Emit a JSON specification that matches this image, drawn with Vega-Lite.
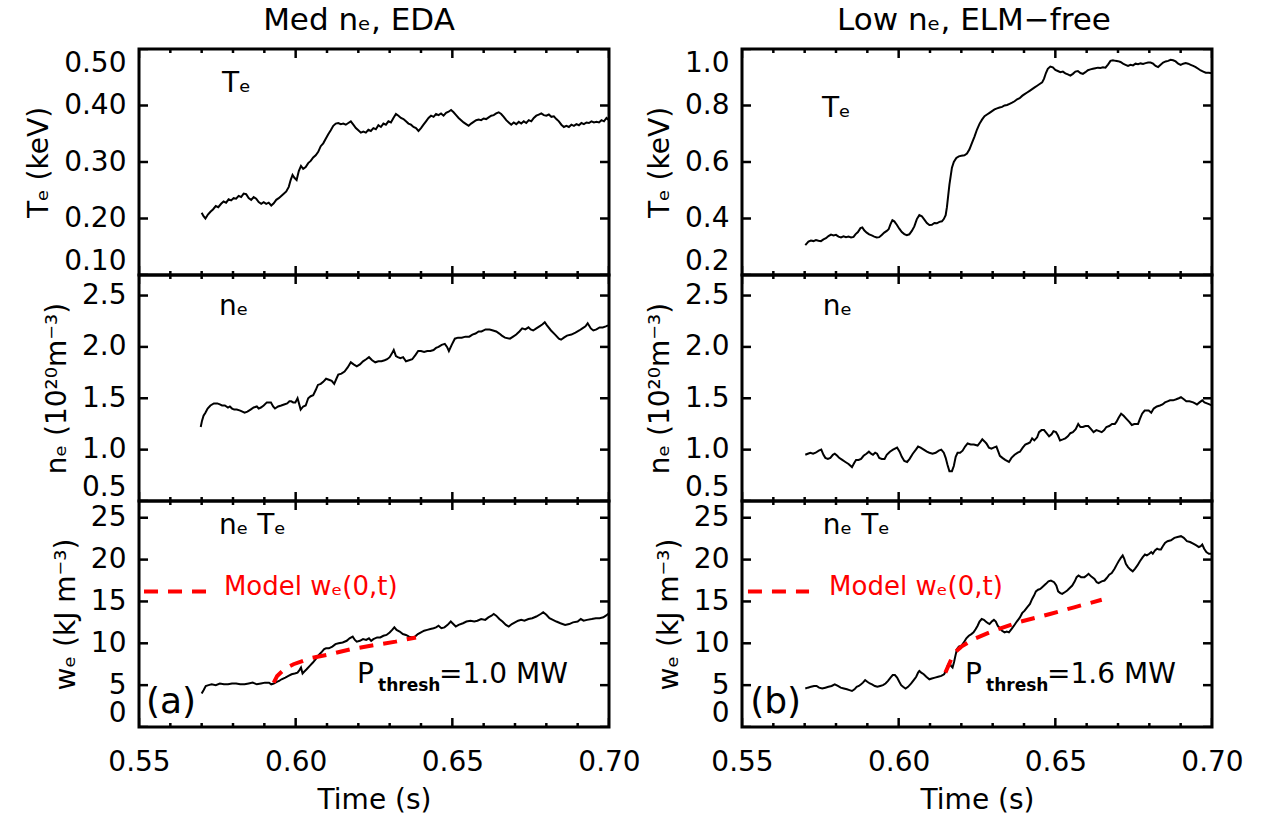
{
"$schema":"https://vega.github.io/schema/vega-lite/v6.json",
"background":"white",
"padding":{"left":24,"top":3,"right":0,"bottom":0},
"config":{"font":"DejaVu Sans","view":{"stroke":"black","strokeWidth":3},"axis":{"labelColor":"black","titleColor":"black","labelFont":"DejaVu Sans","titleFont":"DejaVu Sans"}},
"datasets":{
"xt":[{"t":0.55,"k":"maj"},{"t":0.56,"k":"min"},{"t":0.57,"k":"min"},{"t":0.58,"k":"min"},{"t":0.59,"k":"min"},{"t":0.6,"k":"maj"},{"t":0.61,"k":"min"},{"t":0.62,"k":"min"},{"t":0.63,"k":"min"},{"t":0.64,"k":"min"},{"t":0.65,"k":"maj"},{"t":0.66,"k":"min"},{"t":0.67,"k":"min"},{"t":0.68,"k":"min"},{"t":0.69,"k":"min"},{"t":0.7,"k":"maj"}],
"ytTeA":[{"v":0.1},{"v":0.2},{"v":0.3},{"v":0.4},{"v":0.5}],
"ytTeB":[{"v":0.2},{"v":0.4},{"v":0.6},{"v":0.8},{"v":1.0}],
"ytNe":[{"v":0.5},{"v":1.0},{"v":1.5},{"v":2.0},{"v":2.5}],
"ytWe":[{"v":0},{"v":5},{"v":10},{"v":15},{"v":20},{"v":25}],
"teA":[{"t":0.57,"v":0.21},{"t":0.5706,"v":0.204},{"t":0.5712,"v":0.2},{"t":0.572,"v":0.207},{"t":0.5728,"v":0.212},{"t":0.5736,"v":0.216},{"t":0.5745,"v":0.222},{"t":0.5753,"v":0.22},{"t":0.5762,"v":0.226},{"t":0.577,"v":0.23},{"t":0.5778,"v":0.228},{"t":0.5786,"v":0.234},{"t":0.5794,"v":0.232},{"t":0.5802,"v":0.236},{"t":0.581,"v":0.235},{"t":0.5818,"v":0.24},{"t":0.5826,"v":0.238},{"t":0.5834,"v":0.244},{"t":0.5842,"v":0.243},{"t":0.585,"v":0.236},{"t":0.5858,"v":0.233},{"t":0.5866,"v":0.238},{"t":0.5874,"v":0.235},{"t":0.5882,"v":0.229},{"t":0.589,"v":0.226},{"t":0.5898,"v":0.229},{"t":0.5906,"v":0.226},{"t":0.5914,"v":0.228},{"t":0.5922,"v":0.223},{"t":0.593,"v":0.227},{"t":0.5938,"v":0.233},{"t":0.5946,"v":0.236},{"t":0.5954,"v":0.24},{"t":0.5962,"v":0.244},{"t":0.597,"v":0.248},{"t":0.5978,"v":0.256},{"t":0.5984,"v":0.268},{"t":0.599,"v":0.277},{"t":0.5996,"v":0.272},{"t":0.6003,"v":0.268},{"t":0.601,"v":0.284},{"t":0.6017,"v":0.293},{"t":0.6024,"v":0.288},{"t":0.6032,"v":0.291},{"t":0.604,"v":0.298},{"t":0.6048,"v":0.302},{"t":0.6056,"v":0.308},{"t":0.6064,"v":0.312},{"t":0.6072,"v":0.318},{"t":0.608,"v":0.328},{"t":0.6088,"v":0.333},{"t":0.6096,"v":0.341},{"t":0.6104,"v":0.349},{"t":0.6112,"v":0.356},{"t":0.612,"v":0.364},{"t":0.6128,"v":0.368},{"t":0.6136,"v":0.369},{"t":0.6144,"v":0.367},{"t":0.6152,"v":0.368},{"t":0.616,"v":0.366},{"t":0.6168,"v":0.369},{"t":0.6176,"v":0.372},{"t":0.6184,"v":0.366},{"t":0.6192,"v":0.36},{"t":0.62,"v":0.356},{"t":0.6208,"v":0.352},{"t":0.6216,"v":0.354},{"t":0.6224,"v":0.352},{"t":0.6232,"v":0.357},{"t":0.624,"v":0.355},{"t":0.6248,"v":0.36},{"t":0.6256,"v":0.358},{"t":0.6264,"v":0.365},{"t":0.6272,"v":0.362},{"t":0.628,"v":0.368},{"t":0.6288,"v":0.366},{"t":0.6296,"v":0.372},{"t":0.6304,"v":0.37},{"t":0.6312,"v":0.378},{"t":0.632,"v":0.385},{"t":0.6328,"v":0.382},{"t":0.6336,"v":0.378},{"t":0.6344,"v":0.376},{"t":0.6352,"v":0.372},{"t":0.636,"v":0.368},{"t":0.6368,"v":0.366},{"t":0.6376,"v":0.362},{"t":0.6384,"v":0.36},{"t":0.6392,"v":0.355},{"t":0.64,"v":0.36},{"t":0.6408,"v":0.366},{"t":0.6416,"v":0.372},{"t":0.6424,"v":0.378},{"t":0.6432,"v":0.382},{"t":0.644,"v":0.38},{"t":0.6448,"v":0.385},{"t":0.6456,"v":0.383},{"t":0.6464,"v":0.386},{"t":0.6472,"v":0.382},{"t":0.648,"v":0.387},{"t":0.6488,"v":0.389},{"t":0.6496,"v":0.392},{"t":0.6504,"v":0.388},{"t":0.6512,"v":0.383},{"t":0.652,"v":0.378},{"t":0.6528,"v":0.374},{"t":0.6536,"v":0.37},{"t":0.6544,"v":0.367},{"t":0.6552,"v":0.364},{"t":0.656,"v":0.368},{"t":0.6568,"v":0.371},{"t":0.6576,"v":0.374},{"t":0.6584,"v":0.375},{"t":0.6592,"v":0.374},{"t":0.66,"v":0.377},{"t":0.6608,"v":0.376},{"t":0.6616,"v":0.379},{"t":0.6624,"v":0.382},{"t":0.6632,"v":0.383},{"t":0.664,"v":0.386},{"t":0.6648,"v":0.388},{"t":0.6656,"v":0.385},{"t":0.6664,"v":0.38},{"t":0.6672,"v":0.374},{"t":0.668,"v":0.37},{"t":0.6688,"v":0.366},{"t":0.6696,"v":0.37},{"t":0.6704,"v":0.367},{"t":0.6712,"v":0.371},{"t":0.672,"v":0.368},{"t":0.6728,"v":0.372},{"t":0.6736,"v":0.369},{"t":0.6744,"v":0.374},{"t":0.6752,"v":0.372},{"t":0.676,"v":0.378},{"t":0.6768,"v":0.382},{"t":0.6776,"v":0.384},{"t":0.6784,"v":0.386},{"t":0.6792,"v":0.383},{"t":0.68,"v":0.382},{"t":0.6808,"v":0.384},{"t":0.6816,"v":0.38},{"t":0.6824,"v":0.381},{"t":0.6832,"v":0.376},{"t":0.684,"v":0.372},{"t":0.6848,"v":0.366},{"t":0.6856,"v":0.362},{"t":0.6864,"v":0.364},{"t":0.6872,"v":0.362},{"t":0.688,"v":0.366},{"t":0.6888,"v":0.364},{"t":0.6896,"v":0.367},{"t":0.6904,"v":0.365},{"t":0.6912,"v":0.369},{"t":0.692,"v":0.367},{"t":0.6928,"v":0.37},{"t":0.6936,"v":0.369},{"t":0.6944,"v":0.372},{"t":0.6952,"v":0.37},{"t":0.696,"v":0.371},{"t":0.6968,"v":0.37},{"t":0.6976,"v":0.374},{"t":0.6984,"v":0.372},{"t":0.6992,"v":0.378},{"t":0.7,"v":0.374}],
"teB":[{"t":0.5702,"v":0.306},{"t":0.5707,"v":0.312},{"t":0.5712,"v":0.318},{"t":0.572,"v":0.322},{"t":0.5728,"v":0.32},{"t":0.5736,"v":0.324},{"t":0.5744,"v":0.321},{"t":0.5752,"v":0.32},{"t":0.576,"v":0.326},{"t":0.5768,"v":0.33},{"t":0.5776,"v":0.338},{"t":0.5784,"v":0.343},{"t":0.5792,"v":0.34},{"t":0.58,"v":0.342},{"t":0.5808,"v":0.336},{"t":0.5816,"v":0.333},{"t":0.5824,"v":0.337},{"t":0.5832,"v":0.334},{"t":0.584,"v":0.336},{"t":0.5848,"v":0.333},{"t":0.5856,"v":0.335},{"t":0.5862,"v":0.344},{"t":0.587,"v":0.352},{"t":0.5878,"v":0.366},{"t":0.5884,"v":0.368},{"t":0.589,"v":0.358},{"t":0.5898,"v":0.35},{"t":0.5906,"v":0.344},{"t":0.5914,"v":0.34},{"t":0.5922,"v":0.336},{"t":0.593,"v":0.333},{"t":0.5938,"v":0.334},{"t":0.5946,"v":0.342},{"t":0.5954,"v":0.35},{"t":0.5962,"v":0.356},{"t":0.5968,"v":0.362},{"t":0.5974,"v":0.38},{"t":0.598,"v":0.394},{"t":0.5986,"v":0.39},{"t":0.5994,"v":0.378},{"t":0.6002,"v":0.364},{"t":0.601,"v":0.352},{"t":0.6018,"v":0.345},{"t":0.6026,"v":0.341},{"t":0.6034,"v":0.344},{"t":0.6042,"v":0.356},{"t":0.605,"v":0.372},{"t":0.6058,"v":0.398},{"t":0.6066,"v":0.412},{"t":0.6074,"v":0.408},{"t":0.6082,"v":0.396},{"t":0.609,"v":0.384},{"t":0.6098,"v":0.377},{"t":0.6106,"v":0.378},{"t":0.6114,"v":0.384},{"t":0.6122,"v":0.383},{"t":0.613,"v":0.388},{"t":0.6138,"v":0.39},{"t":0.6144,"v":0.398},{"t":0.615,"v":0.412},{"t":0.6154,"v":0.44},{"t":0.6158,"v":0.48},{"t":0.6162,"v":0.52},{"t":0.6166,"v":0.55},{"t":0.617,"v":0.58},{"t":0.6176,"v":0.6},{"t":0.6184,"v":0.614},{"t":0.6192,"v":0.62},{"t":0.62,"v":0.622},{"t":0.621,"v":0.624},{"t":0.6218,"v":0.63},{"t":0.6226,"v":0.645},{"t":0.6234,"v":0.668},{"t":0.6242,"v":0.69},{"t":0.625,"v":0.715},{"t":0.6258,"v":0.735},{"t":0.6266,"v":0.75},{"t":0.6274,"v":0.762},{"t":0.6282,"v":0.768},{"t":0.629,"v":0.774},{"t":0.6298,"v":0.78},{"t":0.6306,"v":0.786},{"t":0.6314,"v":0.79},{"t":0.6322,"v":0.793},{"t":0.633,"v":0.795},{"t":0.6338,"v":0.8},{"t":0.6346,"v":0.802},{"t":0.6354,"v":0.806},{"t":0.6362,"v":0.81},{"t":0.637,"v":0.815},{"t":0.6378,"v":0.822},{"t":0.6386,"v":0.826},{"t":0.6394,"v":0.834},{"t":0.6402,"v":0.84},{"t":0.641,"v":0.846},{"t":0.6418,"v":0.852},{"t":0.6426,"v":0.858},{"t":0.6434,"v":0.864},{"t":0.6442,"v":0.87},{"t":0.645,"v":0.876},{"t":0.6458,"v":0.882},{"t":0.6464,"v":0.895},{"t":0.647,"v":0.915},{"t":0.6476,"v":0.93},{"t":0.6484,"v":0.938},{"t":0.6492,"v":0.935},{"t":0.65,"v":0.926},{"t":0.6508,"v":0.922},{"t":0.6516,"v":0.918},{"t":0.6524,"v":0.92},{"t":0.6532,"v":0.914},{"t":0.654,"v":0.91},{"t":0.6548,"v":0.906},{"t":0.6556,"v":0.912},{"t":0.6564,"v":0.92},{"t":0.6572,"v":0.922},{"t":0.658,"v":0.915},{"t":0.6588,"v":0.912},{"t":0.6596,"v":0.918},{"t":0.6604,"v":0.925},{"t":0.6612,"v":0.928},{"t":0.662,"v":0.93},{"t":0.6628,"v":0.932},{"t":0.6636,"v":0.934},{"t":0.6644,"v":0.933},{"t":0.6652,"v":0.935},{"t":0.666,"v":0.934},{"t":0.6668,"v":0.945},{"t":0.6676,"v":0.958},{"t":0.6684,"v":0.96},{"t":0.6692,"v":0.958},{"t":0.67,"v":0.957},{"t":0.6708,"v":0.954},{"t":0.6716,"v":0.948},{"t":0.6724,"v":0.944},{"t":0.6732,"v":0.94},{"t":0.674,"v":0.944},{"t":0.6748,"v":0.942},{"t":0.6756,"v":0.948},{"t":0.6764,"v":0.946},{"t":0.6772,"v":0.949},{"t":0.678,"v":0.947},{"t":0.6788,"v":0.95},{"t":0.6796,"v":0.952},{"t":0.6804,"v":0.952},{"t":0.6812,"v":0.948},{"t":0.682,"v":0.94},{"t":0.6828,"v":0.936},{"t":0.6836,"v":0.944},{"t":0.6844,"v":0.952},{"t":0.6852,"v":0.956},{"t":0.686,"v":0.958},{"t":0.6868,"v":0.962},{"t":0.6876,"v":0.96},{"t":0.6884,"v":0.956},{"t":0.6892,"v":0.948},{"t":0.69,"v":0.944},{"t":0.6908,"v":0.948},{"t":0.6916,"v":0.95},{"t":0.6924,"v":0.948},{"t":0.6932,"v":0.944},{"t":0.694,"v":0.94},{"t":0.6948,"v":0.936},{"t":0.6956,"v":0.93},{"t":0.6964,"v":0.924},{"t":0.6972,"v":0.92},{"t":0.698,"v":0.916},{"t":0.699,"v":0.916},{"t":0.7,"v":0.914}],
"neA":[{"t":0.5697,"v":1.22},{"t":0.5701,"v":1.28},{"t":0.5706,"v":1.33},{"t":0.5712,"v":1.36},{"t":0.5719,"v":1.4},{"t":0.5728,"v":1.43},{"t":0.5739,"v":1.45},{"t":0.575,"v":1.45},{"t":0.5758,"v":1.44},{"t":0.5765,"v":1.43},{"t":0.5774,"v":1.43},{"t":0.5784,"v":1.41},{"t":0.579,"v":1.42},{"t":0.5797,"v":1.4},{"t":0.5804,"v":1.39},{"t":0.5812,"v":1.39},{"t":0.5823,"v":1.38},{"t":0.583,"v":1.37},{"t":0.5837,"v":1.36},{"t":0.5846,"v":1.37},{"t":0.5856,"v":1.39},{"t":0.5866,"v":1.41},{"t":0.5876,"v":1.42},{"t":0.5882,"v":1.4},{"t":0.5889,"v":1.41},{"t":0.5898,"v":1.43},{"t":0.5908,"v":1.46},{"t":0.5915,"v":1.46},{"t":0.5921,"v":1.46},{"t":0.5928,"v":1.42},{"t":0.5934,"v":1.4},{"t":0.5944,"v":1.42},{"t":0.5954,"v":1.43},{"t":0.5963,"v":1.44},{"t":0.5973,"v":1.45},{"t":0.598,"v":1.47},{"t":0.5986,"v":1.47},{"t":0.5992,"v":1.46},{"t":0.5999,"v":1.46},{"t":0.6006,"v":1.5},{"t":0.6016,"v":1.39},{"t":0.6024,"v":1.42},{"t":0.6032,"v":1.43},{"t":0.604,"v":1.5},{"t":0.6048,"v":1.52},{"t":0.6056,"v":1.53},{"t":0.6064,"v":1.58},{"t":0.6071,"v":1.63},{"t":0.608,"v":1.64},{"t":0.6088,"v":1.66},{"t":0.6097,"v":1.69},{"t":0.6106,"v":1.68},{"t":0.6115,"v":1.67},{"t":0.6123,"v":1.64},{"t":0.613,"v":1.69},{"t":0.6136,"v":1.73},{"t":0.6146,"v":1.74},{"t":0.6156,"v":1.76},{"t":0.6166,"v":1.8},{"t":0.6176,"v":1.85},{"t":0.6185,"v":1.83},{"t":0.6195,"v":1.81},{"t":0.6205,"v":1.83},{"t":0.6215,"v":1.86},{"t":0.6225,"v":1.88},{"t":0.6234,"v":1.9},{"t":0.6244,"v":1.87},{"t":0.6254,"v":1.85},{"t":0.6264,"v":1.86},{"t":0.6274,"v":1.86},{"t":0.6284,"v":1.87},{"t":0.6292,"v":1.88},{"t":0.63,"v":1.9},{"t":0.6306,"v":1.93},{"t":0.6313,"v":1.97},{"t":0.632,"v":1.91},{"t":0.6326,"v":1.9},{"t":0.6334,"v":1.89},{"t":0.6343,"v":1.9},{"t":0.6352,"v":1.86},{"t":0.6362,"v":1.87},{"t":0.6372,"v":1.88},{"t":0.6382,"v":1.92},{"t":0.6391,"v":1.96},{"t":0.64,"v":1.96},{"t":0.641,"v":1.95},{"t":0.642,"v":1.96},{"t":0.643,"v":1.96},{"t":0.644,"v":1.97},{"t":0.6448,"v":1.99},{"t":0.6456,"v":2.0},{"t":0.6466,"v":2.02},{"t":0.6476,"v":2.03},{"t":0.6483,"v":2.0},{"t":0.6489,"v":1.96},{"t":0.6498,"v":2.02},{"t":0.6508,"v":2.08},{"t":0.6518,"v":2.09},{"t":0.653,"v":2.09},{"t":0.6542,"v":2.1},{"t":0.6554,"v":2.1},{"t":0.6564,"v":2.12},{"t":0.6574,"v":2.13},{"t":0.6584,"v":2.15},{"t":0.6593,"v":2.15},{"t":0.6606,"v":2.17},{"t":0.6619,"v":2.17},{"t":0.663,"v":2.16},{"t":0.664,"v":2.15},{"t":0.665,"v":2.13},{"t":0.6658,"v":2.11},{"t":0.6668,"v":2.09},{"t":0.6684,"v":2.08},{"t":0.6694,"v":2.1},{"t":0.6704,"v":2.12},{"t":0.6714,"v":2.15},{"t":0.6723,"v":2.18},{"t":0.6733,"v":2.17},{"t":0.6743,"v":2.19},{"t":0.675,"v":2.17},{"t":0.6758,"v":2.16},{"t":0.6768,"v":2.18},{"t":0.6778,"v":2.2},{"t":0.6788,"v":2.22},{"t":0.6795,"v":2.24},{"t":0.6802,"v":2.21},{"t":0.6815,"v":2.16},{"t":0.6828,"v":2.12},{"t":0.684,"v":2.08},{"t":0.6847,"v":2.07},{"t":0.6856,"v":2.09},{"t":0.6866,"v":2.11},{"t":0.688,"v":2.12},{"t":0.6893,"v":2.14},{"t":0.6905,"v":2.16},{"t":0.6915,"v":2.18},{"t":0.6925,"v":2.2},{"t":0.6932,"v":2.23},{"t":0.6942,"v":2.18},{"t":0.695,"v":2.16},{"t":0.696,"v":2.17},{"t":0.697,"v":2.19},{"t":0.698,"v":2.19},{"t":0.699,"v":2.2},{"t":0.6997,"v":2.21}],
"neB":[{"t":0.5702,"v":0.95},{"t":0.571,"v":0.96},{"t":0.5718,"v":0.97},{"t":0.5727,"v":0.96},{"t":0.5735,"v":0.97},{"t":0.5745,"v":0.99},{"t":0.5753,"v":1.0},{"t":0.576,"v":0.95},{"t":0.5766,"v":0.92},{"t":0.5774,"v":0.91},{"t":0.5782,"v":0.92},{"t":0.579,"v":0.95},{"t":0.5796,"v":0.96},{"t":0.5804,"v":0.94},{"t":0.581,"v":0.92},{"t":0.582,"v":0.9},{"t":0.583,"v":0.88},{"t":0.584,"v":0.86},{"t":0.5851,"v":0.83},{"t":0.5858,"v":0.87},{"t":0.5864,"v":0.9},{"t":0.5872,"v":0.9},{"t":0.588,"v":0.91},{"t":0.5888,"v":0.94},{"t":0.5897,"v":0.96},{"t":0.5905,"v":0.98},{"t":0.5912,"v":0.96},{"t":0.5918,"v":0.95},{"t":0.5925,"v":0.97},{"t":0.5931,"v":0.96},{"t":0.5938,"v":0.92},{"t":0.5946,"v":0.91},{"t":0.5955,"v":0.91},{"t":0.5962,"v":0.95},{"t":0.5972,"v":0.98},{"t":0.5982,"v":1.0},{"t":0.5995,"v":1.02},{"t":0.6003,"v":0.98},{"t":0.601,"v":0.93},{"t":0.6018,"v":0.89},{"t":0.6027,"v":0.88},{"t":0.6035,"v":0.91},{"t":0.6045,"v":0.96},{"t":0.6055,"v":1.0},{"t":0.6062,"v":1.03},{"t":0.607,"v":1.02},{"t":0.608,"v":1.0},{"t":0.609,"v":0.98},{"t":0.6098,"v":0.97},{"t":0.6108,"v":0.96},{"t":0.6118,"v":0.97},{"t":0.6128,"v":0.99},{"t":0.6136,"v":1.0},{"t":0.6144,"v":0.97},{"t":0.615,"v":0.92},{"t":0.6156,"v":0.85},{"t":0.6162,"v":0.79},{"t":0.617,"v":0.79},{"t":0.6176,"v":0.84},{"t":0.6182,"v":0.93},{"t":0.6188,"v":0.97},{"t":0.6196,"v":0.97},{"t":0.6204,"v":0.99},{"t":0.6212,"v":1.03},{"t":0.622,"v":1.06},{"t":0.623,"v":1.05},{"t":0.624,"v":1.05},{"t":0.6252,"v":1.04},{"t":0.626,"v":1.07},{"t":0.6267,"v":1.1},{"t":0.6274,"v":1.08},{"t":0.628,"v":1.06},{"t":0.6288,"v":1.02},{"t":0.6296,"v":1.01},{"t":0.6303,"v":1.02},{"t":0.6312,"v":1.03},{"t":0.6318,"v":0.98},{"t":0.6323,"v":0.94},{"t":0.6331,"v":0.92},{"t":0.634,"v":0.9},{"t":0.6352,"v":0.88},{"t":0.636,"v":0.92},{"t":0.637,"v":0.95},{"t":0.638,"v":0.97},{"t":0.6387,"v":0.98},{"t":0.6396,"v":1.02},{"t":0.6404,"v":1.05},{"t":0.6412,"v":1.06},{"t":0.6419,"v":1.07},{"t":0.6426,"v":1.11},{"t":0.6433,"v":1.09},{"t":0.6442,"v":1.12},{"t":0.6448,"v":1.17},{"t":0.6456,"v":1.19},{"t":0.6464,"v":1.19},{"t":0.6472,"v":1.16},{"t":0.648,"v":1.13},{"t":0.6488,"v":1.15},{"t":0.6494,"v":1.18},{"t":0.6502,"v":1.17},{"t":0.6508,"v":1.14},{"t":0.6515,"v":1.09},{"t":0.6524,"v":1.1},{"t":0.6532,"v":1.11},{"t":0.654,"v":1.13},{"t":0.6548,"v":1.16},{"t":0.6556,"v":1.17},{"t":0.6565,"v":1.2},{"t":0.6573,"v":1.25},{"t":0.658,"v":1.22},{"t":0.6588,"v":1.22},{"t":0.6596,"v":1.23},{"t":0.6605,"v":1.23},{"t":0.6614,"v":1.2},{"t":0.6622,"v":1.17},{"t":0.6631,"v":1.19},{"t":0.664,"v":1.18},{"t":0.6648,"v":1.17},{"t":0.6656,"v":1.19},{"t":0.6663,"v":1.22},{"t":0.6672,"v":1.23},{"t":0.6681,"v":1.25},{"t":0.669,"v":1.25},{"t":0.6695,"v":1.27},{"t":0.6702,"v":1.31},{"t":0.671,"v":1.35},{"t":0.6718,"v":1.33},{"t":0.6727,"v":1.3},{"t":0.6736,"v":1.27},{"t":0.6744,"v":1.24},{"t":0.6752,"v":1.25},{"t":0.6764,"v":1.25},{"t":0.677,"v":1.3},{"t":0.6777,"v":1.35},{"t":0.6785,"v":1.38},{"t":0.6792,"v":1.38},{"t":0.6798,"v":1.38},{"t":0.6806,"v":1.36},{"t":0.6814,"v":1.4},{"t":0.6824,"v":1.42},{"t":0.6834,"v":1.43},{"t":0.6842,"v":1.44},{"t":0.685,"v":1.46},{"t":0.6858,"v":1.47},{"t":0.6866,"v":1.48},{"t":0.6876,"v":1.48},{"t":0.6886,"v":1.49},{"t":0.6894,"v":1.5},{"t":0.6901,"v":1.51},{"t":0.691,"v":1.49},{"t":0.6918,"v":1.47},{"t":0.6928,"v":1.47},{"t":0.694,"v":1.46},{"t":0.6946,"v":1.45},{"t":0.6952,"v":1.44},{"t":0.696,"v":1.46},{"t":0.6969,"v":1.48},{"t":0.6976,"v":1.46},{"t":0.6984,"v":1.45},{"t":0.6992,"v":1.44},{"t":0.7,"v":1.43}],
"weA":[{"t":0.57,"v":4.0},{"t":0.5706,"v":4.4},{"t":0.5713,"v":4.9},{"t":0.5722,"v":5.0},{"t":0.5732,"v":5.1},{"t":0.5745,"v":5.0},{"t":0.5758,"v":5.2},{"t":0.5771,"v":5.1},{"t":0.5784,"v":5.1},{"t":0.5797,"v":5.2},{"t":0.581,"v":5.2},{"t":0.5823,"v":5.1},{"t":0.5837,"v":5.1},{"t":0.585,"v":5.2},{"t":0.5863,"v":5.3},{"t":0.5876,"v":5.1},{"t":0.5889,"v":5.2},{"t":0.5902,"v":5.3},{"t":0.5915,"v":5.3},{"t":0.5922,"v":5.1},{"t":0.593,"v":5.2},{"t":0.594,"v":5.4},{"t":0.5947,"v":5.5},{"t":0.5955,"v":5.7},{"t":0.5967,"v":5.9},{"t":0.5977,"v":6.1},{"t":0.5987,"v":6.3},{"t":0.5997,"v":6.4},{"t":0.6006,"v":6.5},{"t":0.6012,"v":6.8},{"t":0.6017,"v":7.1},{"t":0.6022,"v":6.4},{"t":0.6027,"v":6.6},{"t":0.6035,"v":6.9},{"t":0.6045,"v":7.3},{"t":0.6055,"v":7.7},{"t":0.6064,"v":8.1},{"t":0.6074,"v":8.6},{"t":0.6084,"v":9.0},{"t":0.6091,"v":9.3},{"t":0.6097,"v":9.4},{"t":0.6106,"v":9.4},{"t":0.6117,"v":9.6},{"t":0.6127,"v":9.9},{"t":0.6137,"v":10.0},{"t":0.615,"v":10.1},{"t":0.6163,"v":10.3},{"t":0.6172,"v":10.6},{"t":0.6182,"v":10.8},{"t":0.6189,"v":10.4},{"t":0.6195,"v":10.2},{"t":0.6205,"v":10.3},{"t":0.6215,"v":10.5},{"t":0.6225,"v":10.4},{"t":0.6234,"v":10.6},{"t":0.6241,"v":10.3},{"t":0.6248,"v":10.5},{"t":0.626,"v":10.7},{"t":0.627,"v":10.7},{"t":0.628,"v":10.9},{"t":0.629,"v":11.0},{"t":0.63,"v":11.3},{"t":0.6308,"v":11.6},{"t":0.6315,"v":11.9},{"t":0.6322,"v":11.6},{"t":0.6332,"v":11.4},{"t":0.6342,"v":11.1},{"t":0.6352,"v":11.0},{"t":0.6362,"v":10.8},{"t":0.6371,"v":10.7},{"t":0.6381,"v":10.8},{"t":0.639,"v":11.1},{"t":0.64,"v":11.3},{"t":0.641,"v":11.5},{"t":0.642,"v":11.6},{"t":0.643,"v":11.7},{"t":0.644,"v":11.8},{"t":0.6448,"v":11.9},{"t":0.6456,"v":12.1},{"t":0.6465,"v":11.8},{"t":0.6475,"v":11.9},{"t":0.6485,"v":12.2},{"t":0.6495,"v":12.6},{"t":0.6503,"v":12.3},{"t":0.6511,"v":12.0},{"t":0.652,"v":12.2},{"t":0.6534,"v":12.4},{"t":0.6545,"v":12.6},{"t":0.6558,"v":12.7},{"t":0.657,"v":12.6},{"t":0.658,"v":12.7},{"t":0.6592,"v":12.9},{"t":0.6605,"v":12.8},{"t":0.6615,"v":13.1},{"t":0.6625,"v":13.3},{"t":0.6632,"v":13.5},{"t":0.664,"v":13.3},{"t":0.665,"v":12.9},{"t":0.666,"v":12.6},{"t":0.6671,"v":12.2},{"t":0.668,"v":12.0},{"t":0.669,"v":12.3},{"t":0.67,"v":12.5},{"t":0.671,"v":12.7},{"t":0.672,"v":12.8},{"t":0.673,"v":12.7},{"t":0.6743,"v":12.9},{"t":0.6755,"v":13.0},{"t":0.6768,"v":13.2},{"t":0.6782,"v":13.5},{"t":0.679,"v":13.7},{"t":0.68,"v":13.4},{"t":0.681,"v":13.0},{"t":0.6821,"v":12.8},{"t":0.6832,"v":12.6},{"t":0.6845,"v":12.4},{"t":0.686,"v":12.2},{"t":0.6873,"v":12.3},{"t":0.6885,"v":12.5},{"t":0.69,"v":12.6},{"t":0.691,"v":12.9},{"t":0.6919,"v":12.7},{"t":0.693,"v":12.8},{"t":0.6945,"v":12.9},{"t":0.6958,"v":13.0},{"t":0.697,"v":13.0},{"t":0.6982,"v":13.1},{"t":0.699,"v":13.3},{"t":0.7,"v":13.6}],
"weB":[{"t":0.5702,"v":4.6},{"t":0.571,"v":4.7},{"t":0.572,"v":4.8},{"t":0.573,"v":4.9},{"t":0.5738,"v":4.9},{"t":0.5746,"v":4.7},{"t":0.5756,"v":4.6},{"t":0.5766,"v":4.7},{"t":0.5776,"v":4.8},{"t":0.5786,"v":4.9},{"t":0.5796,"v":5.1},{"t":0.5806,"v":4.9},{"t":0.5815,"v":4.7},{"t":0.5825,"v":4.6},{"t":0.5835,"v":4.5},{"t":0.5843,"v":4.4},{"t":0.5851,"v":4.3},{"t":0.5859,"v":4.5},{"t":0.5866,"v":4.8},{"t":0.5873,"v":4.9},{"t":0.588,"v":5.1},{"t":0.5886,"v":5.3},{"t":0.5893,"v":5.6},{"t":0.59,"v":5.4},{"t":0.5908,"v":5.2},{"t":0.5915,"v":5.1},{"t":0.5924,"v":4.9},{"t":0.5932,"v":4.8},{"t":0.5941,"v":4.9},{"t":0.595,"v":5.0},{"t":0.5958,"v":5.2},{"t":0.5966,"v":5.5},{"t":0.5974,"v":5.9},{"t":0.5981,"v":6.2},{"t":0.5988,"v":6.2},{"t":0.5995,"v":5.9},{"t":0.6002,"v":5.4},{"t":0.6008,"v":5.0},{"t":0.6014,"v":4.8},{"t":0.6022,"v":4.6},{"t":0.603,"v":4.8},{"t":0.604,"v":5.2},{"t":0.6048,"v":5.6},{"t":0.6056,"v":6.0},{"t":0.6062,"v":6.5},{"t":0.6066,"v":6.7},{"t":0.6072,"v":6.5},{"t":0.608,"v":6.3},{"t":0.6088,"v":6.0},{"t":0.6098,"v":5.7},{"t":0.6106,"v":5.8},{"t":0.6116,"v":5.9},{"t":0.6126,"v":6.0},{"t":0.6136,"v":6.1},{"t":0.6145,"v":6.3},{"t":0.6152,"v":6.8},{"t":0.6157,"v":7.4},{"t":0.6162,"v":7.7},{"t":0.6167,"v":7.3},{"t":0.6172,"v":7.1},{"t":0.6177,"v":7.8},{"t":0.6181,"v":8.5},{"t":0.6186,"v":9.3},{"t":0.6192,"v":9.6},{"t":0.62,"v":9.7},{"t":0.6208,"v":10.1},{"t":0.6216,"v":10.6},{"t":0.6224,"v":10.9},{"t":0.6232,"v":11.1},{"t":0.6239,"v":11.3},{"t":0.6246,"v":11.7},{"t":0.6252,"v":12.1},{"t":0.6258,"v":12.6},{"t":0.6265,"v":12.9},{"t":0.6272,"v":12.8},{"t":0.6278,"v":12.6},{"t":0.6285,"v":12.4},{"t":0.629,"v":12.3},{"t":0.6297,"v":12.6},{"t":0.6304,"v":12.8},{"t":0.631,"v":12.6},{"t":0.6316,"v":12.1},{"t":0.6323,"v":11.8},{"t":0.633,"v":11.5},{"t":0.6338,"v":11.3},{"t":0.6345,"v":11.4},{"t":0.6352,"v":11.3},{"t":0.636,"v":11.7},{"t":0.6368,"v":12.1},{"t":0.6377,"v":12.6},{"t":0.6387,"v":13.1},{"t":0.6394,"v":13.6},{"t":0.6402,"v":13.9},{"t":0.641,"v":14.3},{"t":0.6419,"v":14.7},{"t":0.6426,"v":15.3},{"t":0.6432,"v":15.7},{"t":0.6438,"v":16.2},{"t":0.6445,"v":16.4},{"t":0.6452,"v":16.5},{"t":0.6458,"v":16.7},{"t":0.6464,"v":16.9},{"t":0.647,"v":17.1},{"t":0.6478,"v":17.4},{"t":0.6486,"v":17.5},{"t":0.6496,"v":17.3},{"t":0.6503,"v":16.9},{"t":0.6509,"v":16.2},{"t":0.6516,"v":16.0},{"t":0.6522,"v":15.9},{"t":0.653,"v":16.1},{"t":0.6538,"v":16.3},{"t":0.6546,"v":16.6},{"t":0.6554,"v":16.9},{"t":0.6562,"v":17.4},{"t":0.6568,"v":17.9},{"t":0.6574,"v":18.1},{"t":0.6582,"v":17.9},{"t":0.6593,"v":17.9},{"t":0.66,"v":18.1},{"t":0.6606,"v":18.3},{"t":0.6614,"v":18.0},{"t":0.6625,"v":17.7},{"t":0.6632,"v":17.3},{"t":0.6638,"v":17.2},{"t":0.6648,"v":17.4},{"t":0.6657,"v":17.5},{"t":0.6664,"v":17.8},{"t":0.6672,"v":18.2},{"t":0.668,"v":18.4},{"t":0.6689,"v":18.9},{"t":0.6696,"v":19.4},{"t":0.6702,"v":19.8},{"t":0.6709,"v":20.2},{"t":0.6715,"v":20.5},{"t":0.672,"v":20.1},{"t":0.6725,"v":19.5},{"t":0.6732,"v":19.1},{"t":0.674,"v":18.8},{"t":0.6747,"v":18.6},{"t":0.6754,"v":18.9},{"t":0.6762,"v":19.3},{"t":0.677,"v":19.8},{"t":0.6779,"v":20.3},{"t":0.6786,"v":20.6},{"t":0.6792,"v":20.5},{"t":0.68,"v":20.7},{"t":0.6806,"v":20.9},{"t":0.6811,"v":20.7},{"t":0.6818,"v":21.1},{"t":0.6825,"v":21.3},{"t":0.6831,"v":21.2},{"t":0.6837,"v":21.2},{"t":0.6843,"v":21.6},{"t":0.685,"v":22.0},{"t":0.6858,"v":22.2},{"t":0.6869,"v":22.3},{"t":0.688,"v":22.6},{"t":0.689,"v":22.7},{"t":0.6901,"v":22.8},{"t":0.691,"v":22.6},{"t":0.692,"v":22.2},{"t":0.693,"v":22.1},{"t":0.694,"v":21.9},{"t":0.695,"v":21.7},{"t":0.6958,"v":21.5},{"t":0.6964,"v":21.6},{"t":0.6969,"v":21.8},{"t":0.6975,"v":21.3},{"t":0.6982,"v":20.9},{"t":0.699,"v":20.7},{"t":0.7,"v":20.7}],
"mdA":[{"s":"model","t":0.593,"v":5.3},{"s":"model","t":0.5941,"v":6.1},{"s":"model","t":0.5967,"v":7.0},{"s":"model","t":0.5993,"v":7.5},{"s":"model","t":0.6045,"v":8.2},{"s":"model","t":0.611,"v":8.7},{"s":"model","t":0.6176,"v":9.3},{"s":"model","t":0.6254,"v":9.8},{"s":"model","t":0.6319,"v":10.2},{"s":"model","t":0.6384,"v":10.7},{"s":"leg","t":0.5516,"v":16.2},{"s":"leg","t":0.5717,"v":16.2}],
"mdB":[{"s":"model","t":0.6149,"v":6.5},{"s":"model","t":0.6168,"v":8.1},{"s":"model","t":0.6182,"v":9.0},{"s":"model","t":0.62,"v":9.6},{"s":"model","t":0.6239,"v":10.5},{"s":"model","t":0.6303,"v":11.5},{"s":"model","t":0.638,"v":12.5},{"s":"model","t":0.6483,"v":13.5},{"s":"model","t":0.656,"v":14.3},{"s":"model","t":0.6648,"v":15.2},{"s":"leg","t":0.5519,"v":16.2},{"s":"leg","t":0.5714,"v":16.2}]
},
"columns":2,
"spacing":{"row":0,"column":133},
"bounds":"flush",
"concat":[
 {"width":470,"height":226,
  "title":{"text":"Med  nₑ,  EDA","fontSize":31,"fontWeight":"normal","font":"DejaVu Sans","offset":16,"dy":28,"baseline":"alphabetic","anchor":"middle","frame":"group","dx":-15,"color":"black"},
  "resolve":{"axis":{"x":"independent","y":"independent"}},
  "layer":[
   {"data":{"name":"teA"},"mark":{"type":"line","color":"black","strokeWidth":2,"clip":true},
    "encoding":{"x":{"field":"t","type":"quantitative","scale":{"domain":[0.55,0.7],"nice":false,"zero":false},"axis":null},
     "y":{"field":"v","type":"quantitative","scale":{"domain":[0.1,0.5],"nice":false,"zero":false},"axis":{"orient":"left","values":[0.1,0.2,0.3,0.4,0.5],"format":".2f","labelFontSize":28,"labelPadding":13,"labelFlush":true,"labelOverlap":false,"title":"Tₑ (keV)","titleFontSize":28,"titleFontWeight":"normal","titlePadding":10,"domain":false,"grid":false,"ticks":false}}}},
   {"data":{"values":[{"t":0.5765,"v":0.424,"txt":"Tₑ"}]},"mark":{"type":"text","align":"left","baseline":"alphabetic","fontSize":28,"color":"black"},
    "encoding":{"x":{"field":"t","type":"quantitative","axis":null},"y":{"field":"v","type":"quantitative","axis":null},"text":{"field":"txt"}}},
   {"data":{"name":"xt"},"mark":{"type":"tick","orient":"vertical","color":"black","thickness":2.5,"opacity":1,"clip":true},
    "encoding":{"x":{"field":"t","type":"quantitative","axis":null},"y":{"datum":0.1,"axis":null},"size":{"field":"k","type":"ordinal","scale":{"domain":["min","maj"],"range":[8,18]},"legend":null}}},
   {"data":{"name":"xt"},"mark":{"type":"tick","orient":"vertical","color":"black","thickness":2.5,"opacity":1,"clip":true},
    "encoding":{"x":{"field":"t","type":"quantitative","axis":null},"y":{"datum":0.5,"axis":null},"size":{"field":"k","type":"ordinal","scale":{"domain":["min","maj"],"range":[8,18]},"legend":null}}},
   {"data":{"name":"ytTeA"},"mark":{"type":"tick","orient":"horizontal","color":"black","thickness":2.5,"size":18,"opacity":1,"clip":true},
    "encoding":{"y":{"field":"v","type":"quantitative","axis":null},"x":{"datum":0.55,"axis":null}}},
   {"data":{"name":"ytTeA"},"mark":{"type":"tick","orient":"horizontal","color":"black","thickness":2.5,"size":18,"opacity":1,"clip":true},
    "encoding":{"y":{"field":"v","type":"quantitative","axis":null},"x":{"datum":0.7,"axis":null}}}
  ]},
 {"width":470,"height":226,
  "title":{"text":"Low  nₑ,  ELM−free","fontSize":31,"fontWeight":"normal","font":"DejaVu Sans","offset":16,"dy":28,"baseline":"alphabetic","anchor":"middle","frame":"group","dx":-3,"color":"black"},
  "resolve":{"axis":{"x":"independent","y":"independent"}},
  "layer":[
   {"data":{"name":"teB"},"mark":{"type":"line","color":"black","strokeWidth":2,"clip":true},
    "encoding":{"x":{"field":"t","type":"quantitative","scale":{"domain":[0.55,0.7],"nice":false,"zero":false},"axis":null},
     "y":{"field":"v","type":"quantitative","scale":{"domain":[0.2,1.0],"nice":false,"zero":false},"axis":{"orient":"left","values":[0.2,0.4,0.6,0.8,1.0],"format":".1f","labelFontSize":28,"labelPadding":13,"labelFlush":true,"labelOverlap":false,"title":"Tₑ (keV)","titleFontSize":28,"titleFontWeight":"normal","titlePadding":10,"domain":false,"grid":false,"ticks":false}}}},
   {"data":{"values":[{"t":0.5755,"v":0.76,"txt":"Tₑ"}]},"mark":{"type":"text","align":"left","baseline":"alphabetic","fontSize":28,"color":"black"},
    "encoding":{"x":{"field":"t","type":"quantitative","axis":null},"y":{"field":"v","type":"quantitative","axis":null},"text":{"field":"txt"}}},
   {"data":{"name":"xt"},"mark":{"type":"tick","orient":"vertical","color":"black","thickness":2.5,"opacity":1,"clip":true},
    "encoding":{"x":{"field":"t","type":"quantitative","axis":null},"y":{"datum":0.2,"axis":null},"size":{"field":"k","type":"ordinal","scale":{"domain":["min","maj"],"range":[8,18]},"legend":null}}},
   {"data":{"name":"xt"},"mark":{"type":"tick","orient":"vertical","color":"black","thickness":2.5,"opacity":1,"clip":true},
    "encoding":{"x":{"field":"t","type":"quantitative","axis":null},"y":{"datum":1.0,"axis":null},"size":{"field":"k","type":"ordinal","scale":{"domain":["min","maj"],"range":[8,18]},"legend":null}}},
   {"data":{"name":"ytTeB"},"mark":{"type":"tick","orient":"horizontal","color":"black","thickness":2.5,"size":18,"opacity":1,"clip":true},
    "encoding":{"y":{"field":"v","type":"quantitative","axis":null},"x":{"datum":0.55,"axis":null}}},
   {"data":{"name":"ytTeB"},"mark":{"type":"tick","orient":"horizontal","color":"black","thickness":2.5,"size":18,"opacity":1,"clip":true},
    "encoding":{"y":{"field":"v","type":"quantitative","axis":null},"x":{"datum":0.7,"axis":null}}}
  ]},
 {"width":470,"height":226,
  "resolve":{"axis":{"x":"independent","y":"independent"}},
  "layer":[
   {"data":{"name":"neA"},"mark":{"type":"line","color":"black","strokeWidth":2,"clip":true},
    "encoding":{"x":{"field":"t","type":"quantitative","scale":{"domain":[0.55,0.7],"nice":false,"zero":false},"axis":null},
     "y":{"field":"v","type":"quantitative","scale":{"domain":[0.5,2.7],"nice":false,"zero":false},"axis":{"orient":"left","values":[0.5,1.0,1.5,2.0,2.5],"format":".1f","labelFontSize":28,"labelPadding":13,"labelFlush":true,"labelOverlap":false,"title":"nₑ (10²⁰m⁻³)","titleFontSize":28,"titleFontWeight":"normal","titlePadding":10,"domain":false,"grid":false,"ticks":false}}}},
   {"data":{"values":[{"t":0.5755,"v":2.31,"txt":"nₑ"}]},"mark":{"type":"text","align":"left","baseline":"alphabetic","fontSize":28,"color":"black"},
    "encoding":{"x":{"field":"t","type":"quantitative","axis":null},"y":{"field":"v","type":"quantitative","axis":null},"text":{"field":"txt"}}},
   {"data":{"name":"xt"},"mark":{"type":"tick","orient":"vertical","color":"black","thickness":2.5,"opacity":1,"clip":true},
    "encoding":{"x":{"field":"t","type":"quantitative","axis":null},"y":{"datum":0.5,"axis":null},"size":{"field":"k","type":"ordinal","scale":{"domain":["min","maj"],"range":[8,18]},"legend":null}}},
   {"data":{"name":"xt"},"mark":{"type":"tick","orient":"vertical","color":"black","thickness":2.5,"opacity":1,"clip":true},
    "encoding":{"x":{"field":"t","type":"quantitative","axis":null},"y":{"datum":2.7,"axis":null},"size":{"field":"k","type":"ordinal","scale":{"domain":["min","maj"],"range":[8,18]},"legend":null}}},
   {"data":{"name":"ytNe"},"mark":{"type":"tick","orient":"horizontal","color":"black","thickness":2.5,"size":18,"opacity":1,"clip":true},
    "encoding":{"y":{"field":"v","type":"quantitative","axis":null},"x":{"datum":0.55,"axis":null}}},
   {"data":{"name":"ytNe"},"mark":{"type":"tick","orient":"horizontal","color":"black","thickness":2.5,"size":18,"opacity":1,"clip":true},
    "encoding":{"y":{"field":"v","type":"quantitative","axis":null},"x":{"datum":0.7,"axis":null}}}
  ]},
 {"width":470,"height":226,
  "resolve":{"axis":{"x":"independent","y":"independent"}},
  "layer":[
   {"data":{"name":"neB"},"mark":{"type":"line","color":"black","strokeWidth":2,"clip":true},
    "encoding":{"x":{"field":"t","type":"quantitative","scale":{"domain":[0.55,0.7],"nice":false,"zero":false},"axis":null},
     "y":{"field":"v","type":"quantitative","scale":{"domain":[0.5,2.7],"nice":false,"zero":false},"axis":{"orient":"left","values":[0.5,1.0,1.5,2.0,2.5],"format":".1f","labelFontSize":28,"labelPadding":13,"labelFlush":true,"labelOverlap":false,"title":"nₑ (10²⁰m⁻³)","titleFontSize":28,"titleFontWeight":"normal","titlePadding":10,"domain":false,"grid":false,"ticks":false}}}},
   {"data":{"values":[{"t":0.5758,"v":2.31,"txt":"nₑ"}]},"mark":{"type":"text","align":"left","baseline":"alphabetic","fontSize":28,"color":"black"},
    "encoding":{"x":{"field":"t","type":"quantitative","axis":null},"y":{"field":"v","type":"quantitative","axis":null},"text":{"field":"txt"}}},
   {"data":{"name":"xt"},"mark":{"type":"tick","orient":"vertical","color":"black","thickness":2.5,"opacity":1,"clip":true},
    "encoding":{"x":{"field":"t","type":"quantitative","axis":null},"y":{"datum":0.5,"axis":null},"size":{"field":"k","type":"ordinal","scale":{"domain":["min","maj"],"range":[8,18]},"legend":null}}},
   {"data":{"name":"xt"},"mark":{"type":"tick","orient":"vertical","color":"black","thickness":2.5,"opacity":1,"clip":true},
    "encoding":{"x":{"field":"t","type":"quantitative","axis":null},"y":{"datum":2.7,"axis":null},"size":{"field":"k","type":"ordinal","scale":{"domain":["min","maj"],"range":[8,18]},"legend":null}}},
   {"data":{"name":"ytNe"},"mark":{"type":"tick","orient":"horizontal","color":"black","thickness":2.5,"size":18,"opacity":1,"clip":true},
    "encoding":{"y":{"field":"v","type":"quantitative","axis":null},"x":{"datum":0.55,"axis":null}}},
   {"data":{"name":"ytNe"},"mark":{"type":"tick","orient":"horizontal","color":"black","thickness":2.5,"size":18,"opacity":1,"clip":true},
    "encoding":{"y":{"field":"v","type":"quantitative","axis":null},"x":{"datum":0.7,"axis":null}}}
  ]},
 {"width":470,"height":226,
  "resolve":{"axis":{"x":"independent","y":"independent"}},
  "layer":[
   {"data":{"name":"weA"},"mark":{"type":"line","color":"black","strokeWidth":2,"clip":true},
    "encoding":{"x":{"field":"t","type":"quantitative","scale":{"domain":[0.55,0.7],"nice":false,"zero":false},"axis":{"orient":"bottom","values":[0.55,0.6,0.65,0.7],"format":".2f","labelFontSize":28,"labelPadding":21,"labelFlush":false,"labelOverlap":false,"title":"Time  (s)","titleFontSize":28,"titleFontWeight":"normal","titlePadding":10,"domain":false,"grid":false,"ticks":false}},
     "y":{"field":"v","type":"quantitative","scale":{"domain":[0,27],"nice":false,"zero":false},"axis":{"orient":"left","values":[0,5,10,15,20,25],"format":"d","labelFontSize":28,"labelPadding":13,"labelFlush":true,"labelOverlap":false,"title":"wₑ (kJ m⁻³)","titleFontSize":28,"titleFontWeight":"normal","titlePadding":10,"domain":false,"grid":false,"ticks":false}}}},
   {"data":{"name":"mdA"},"mark":{"type":"line","color":"#ff0000","strokeWidth":4,"strokeDash":[14,10],"clip":true},
    "encoding":{"x":{"field":"t","type":"quantitative","axis":null},"y":{"field":"v","type":"quantitative","axis":null},"detail":{"field":"s"}}},
   {"data":{"values":[{"t":0.5755,"v":23.0,"txt":"nₑ  Tₑ"}]},"mark":{"type":"text","align":"left","baseline":"alphabetic","fontSize":28,"color":"black"},
    "encoding":{"x":{"field":"t","type":"quantitative","axis":null},"y":{"field":"v","type":"quantitative","axis":null},"text":{"field":"txt"}}},
   {"data":{"values":[{"t":0.5771,"v":15.8,"txt":"Model  wₑ(0,t)"}]},"mark":{"type":"text","align":"left","baseline":"alphabetic","fontSize":26,"color":"#ff0000"},
    "encoding":{"x":{"field":"t","type":"quantitative","axis":null},"y":{"field":"v","type":"quantitative","axis":null},"text":{"field":"txt"}}},
   {"data":{"values":[{"t":0.5522,"v":1.7,"txt":"(a)"}]},"mark":{"type":"text","align":"left","baseline":"alphabetic","fontSize":36,"color":"black"},
    "encoding":{"x":{"field":"t","type":"quantitative","axis":null},"y":{"field":"v","type":"quantitative","axis":null},"text":{"field":"txt"}}},
   {"data":{"values":[{"t":0.6196,"v":5.2,"txt":"P"}]},"mark":{"type":"text","align":"left","baseline":"alphabetic","fontSize":28,"color":"black"},
    "encoding":{"x":{"field":"t","type":"quantitative","axis":null},"y":{"field":"v","type":"quantitative","axis":null},"text":{"field":"txt"}}},
   {"data":{"values":[{"t":0.6196,"v":5.2,"txt":"thresh"}]},"mark":{"type":"text","align":"left","baseline":"alphabetic","fontSize":17,"fontWeight":"bold","dx":21,"dy":8,"color":"black"},
    "encoding":{"x":{"field":"t","type":"quantitative","axis":null},"y":{"field":"v","type":"quantitative","axis":null},"text":{"field":"txt"}}},
   {"data":{"values":[{"t":0.6196,"v":5.2,"txt":"=1.0  MW"}]},"mark":{"type":"text","align":"left","baseline":"alphabetic","fontSize":28,"dx":82,"color":"black"},
    "encoding":{"x":{"field":"t","type":"quantitative","axis":null},"y":{"field":"v","type":"quantitative","axis":null},"text":{"field":"txt"}}},
   {"data":{"name":"xt"},"mark":{"type":"tick","orient":"vertical","color":"black","thickness":2.5,"opacity":1,"clip":true},
    "encoding":{"x":{"field":"t","type":"quantitative","axis":null},"y":{"datum":0,"axis":null},"size":{"field":"k","type":"ordinal","scale":{"domain":["min","maj"],"range":[8,18]},"legend":null}}},
   {"data":{"name":"xt"},"mark":{"type":"tick","orient":"vertical","color":"black","thickness":2.5,"opacity":1,"clip":true},
    "encoding":{"x":{"field":"t","type":"quantitative","axis":null},"y":{"datum":27,"axis":null},"size":{"field":"k","type":"ordinal","scale":{"domain":["min","maj"],"range":[8,18]},"legend":null}}},
   {"data":{"name":"ytWe"},"mark":{"type":"tick","orient":"horizontal","color":"black","thickness":2.5,"size":18,"opacity":1,"clip":true},
    "encoding":{"y":{"field":"v","type":"quantitative","axis":null},"x":{"datum":0.55,"axis":null}}},
   {"data":{"name":"ytWe"},"mark":{"type":"tick","orient":"horizontal","color":"black","thickness":2.5,"size":18,"opacity":1,"clip":true},
    "encoding":{"y":{"field":"v","type":"quantitative","axis":null},"x":{"datum":0.7,"axis":null}}}
  ]},
 {"width":470,"height":226,
  "resolve":{"axis":{"x":"independent","y":"independent"}},
  "layer":[
   {"data":{"name":"weB"},"mark":{"type":"line","color":"black","strokeWidth":2,"clip":true},
    "encoding":{"x":{"field":"t","type":"quantitative","scale":{"domain":[0.55,0.7],"nice":false,"zero":false},"axis":{"orient":"bottom","values":[0.55,0.6,0.65,0.7],"format":".2f","labelFontSize":28,"labelPadding":21,"labelFlush":false,"labelOverlap":false,"title":"Time  (s)","titleFontSize":28,"titleFontWeight":"normal","titlePadding":10,"domain":false,"grid":false,"ticks":false}},
     "y":{"field":"v","type":"quantitative","scale":{"domain":[0,27],"nice":false,"zero":false},"axis":{"orient":"left","values":[0,5,10,15,20,25],"format":"d","labelFontSize":28,"labelPadding":13,"labelFlush":true,"labelOverlap":false,"title":"wₑ (kJ m⁻³)","titleFontSize":28,"titleFontWeight":"normal","titlePadding":10,"domain":false,"grid":false,"ticks":false}}}},
   {"data":{"name":"mdB"},"mark":{"type":"line","color":"#ff0000","strokeWidth":4,"strokeDash":[14,10],"clip":true},
    "encoding":{"x":{"field":"t","type":"quantitative","axis":null},"y":{"field":"v","type":"quantitative","axis":null},"detail":{"field":"s"}}},
   {"data":{"values":[{"t":0.5758,"v":23.0,"txt":"nₑ  Tₑ"}]},"mark":{"type":"text","align":"left","baseline":"alphabetic","fontSize":28,"color":"black"},
    "encoding":{"x":{"field":"t","type":"quantitative","axis":null},"y":{"field":"v","type":"quantitative","axis":null},"text":{"field":"txt"}}},
   {"data":{"values":[{"t":0.5778,"v":15.8,"txt":"Model  wₑ(0,t)"}]},"mark":{"type":"text","align":"left","baseline":"alphabetic","fontSize":26,"color":"#ff0000"},
    "encoding":{"x":{"field":"t","type":"quantitative","axis":null},"y":{"field":"v","type":"quantitative","axis":null},"text":{"field":"txt"}}},
   {"data":{"values":[{"t":0.5526,"v":1.7,"txt":"(b)"}]},"mark":{"type":"text","align":"left","baseline":"alphabetic","fontSize":36,"color":"black"},
    "encoding":{"x":{"field":"t","type":"quantitative","axis":null},"y":{"field":"v","type":"quantitative","axis":null},"text":{"field":"txt"}}},
   {"data":{"values":[{"t":0.6212,"v":5.3,"txt":"P"}]},"mark":{"type":"text","align":"left","baseline":"alphabetic","fontSize":28,"color":"black"},
    "encoding":{"x":{"field":"t","type":"quantitative","axis":null},"y":{"field":"v","type":"quantitative","axis":null},"text":{"field":"txt"}}},
   {"data":{"values":[{"t":0.6212,"v":5.3,"txt":"thresh"}]},"mark":{"type":"text","align":"left","baseline":"alphabetic","fontSize":17,"fontWeight":"bold","dx":21,"dy":8,"color":"black"},
    "encoding":{"x":{"field":"t","type":"quantitative","axis":null},"y":{"field":"v","type":"quantitative","axis":null},"text":{"field":"txt"}}},
   {"data":{"values":[{"t":0.6212,"v":5.3,"txt":"=1.6  MW"}]},"mark":{"type":"text","align":"left","baseline":"alphabetic","fontSize":28,"dx":82,"color":"black"},
    "encoding":{"x":{"field":"t","type":"quantitative","axis":null},"y":{"field":"v","type":"quantitative","axis":null},"text":{"field":"txt"}}},
   {"data":{"name":"xt"},"mark":{"type":"tick","orient":"vertical","color":"black","thickness":2.5,"opacity":1,"clip":true},
    "encoding":{"x":{"field":"t","type":"quantitative","axis":null},"y":{"datum":0,"axis":null},"size":{"field":"k","type":"ordinal","scale":{"domain":["min","maj"],"range":[8,18]},"legend":null}}},
   {"data":{"name":"xt"},"mark":{"type":"tick","orient":"vertical","color":"black","thickness":2.5,"opacity":1,"clip":true},
    "encoding":{"x":{"field":"t","type":"quantitative","axis":null},"y":{"datum":27,"axis":null},"size":{"field":"k","type":"ordinal","scale":{"domain":["min","maj"],"range":[8,18]},"legend":null}}},
   {"data":{"name":"ytWe"},"mark":{"type":"tick","orient":"horizontal","color":"black","thickness":2.5,"size":18,"opacity":1,"clip":true},
    "encoding":{"y":{"field":"v","type":"quantitative","axis":null},"x":{"datum":0.55,"axis":null}}},
   {"data":{"name":"ytWe"},"mark":{"type":"tick","orient":"horizontal","color":"black","thickness":2.5,"size":18,"opacity":1,"clip":true},
    "encoding":{"y":{"field":"v","type":"quantitative","axis":null},"x":{"datum":0.7,"axis":null}}}
  ]}
]
}
